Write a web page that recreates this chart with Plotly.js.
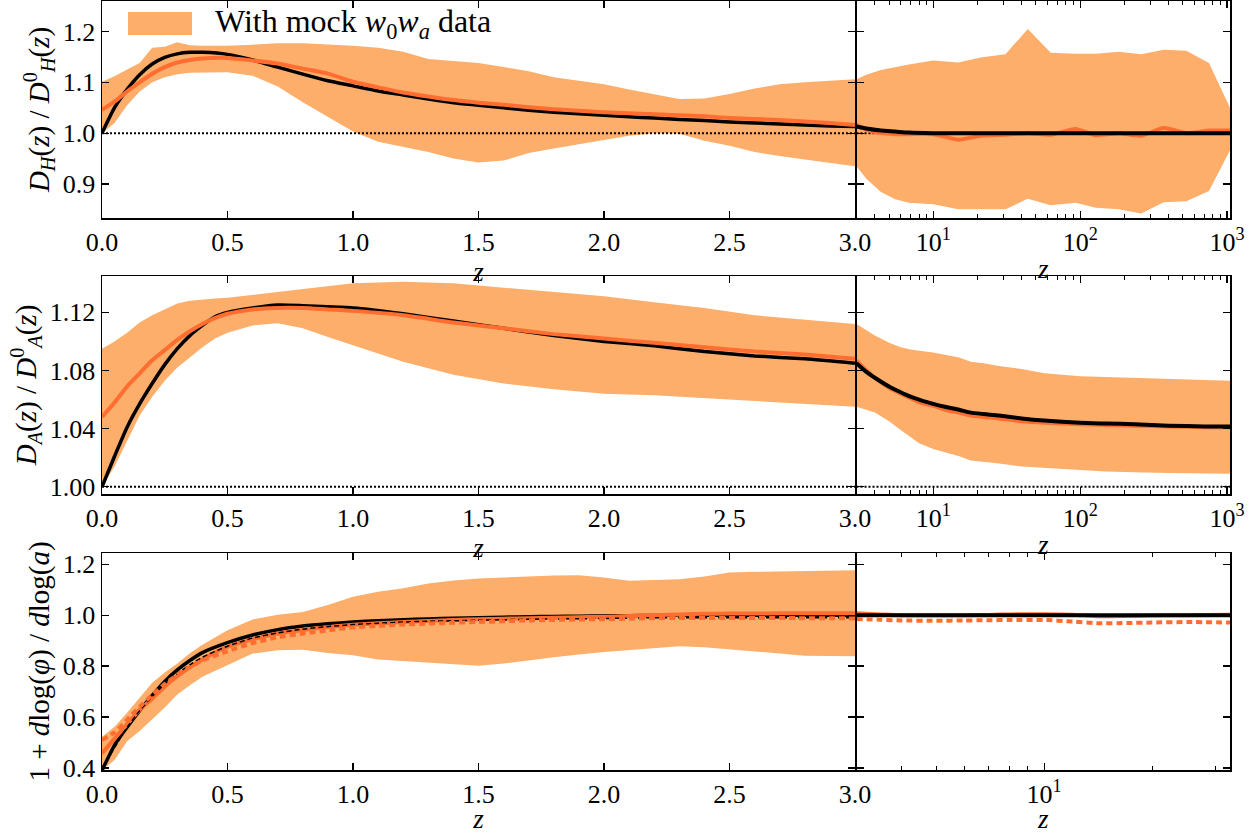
<!DOCTYPE html>
<html><head><meta charset="utf-8">
<script src="https://cdn.plot.ly/plotly-3.0.1.min.js"></script>
<style>
html,body{margin:0;padding:0;background:#fff;}
#plot{width:1256px;height:834px;}
#plot svg text{font-family:'Liberation Serif' !important;}
</style>
</head><body><div id="plot"></div>
<script>
// ---------- Row 1: D_H(z)/D_H^0(z) ----------
const zH = [0,0.05,0.1,0.15,0.2,0.25,0.3,0.35,0.4,0.5,0.6,0.7,0.8,0.9,1.0,1.1,1.2,1.3,1.4,1.5,1.6,1.7,1.8,1.9,2.0,2.1,2.2,2.3,2.4,2.5,2.6,2.7,2.8,2.9,3.0];
const dhUpper = [1.101,1.112,1.125,1.138,1.168,1.170,1.179,1.173,1.172,1.172,1.174,1.177,1.177,1.175,1.172,1.168,1.160,1.146,1.142,1.138,1.130,1.122,1.110,1.103,1.096,1.086,1.076,1.067,1.068,1.077,1.088,1.096,1.100,1.103,1.106];
const dhLower = [1.000,1.020,1.055,1.082,1.100,1.110,1.116,1.119,1.120,1.120,1.113,1.092,1.061,1.032,1.003,0.983,0.973,0.963,0.950,0.942,0.946,0.961,0.970,0.978,0.987,0.995,1.000,0.999,0.985,0.975,0.963,0.955,0.948,0.941,0.935];
const dhMean  = [1.046,1.062,1.082,1.100,1.117,1.130,1.139,1.144,1.147,1.148,1.143,1.137,1.127,1.117,1.101,1.090,1.080,1.072,1.065,1.060,1.056,1.051,1.047,1.044,1.041,1.039,1.037,1.035,1.033,1.030,1.028,1.026,1.023,1.020,1.016];
const dhTrue  = [1.000,1.050,1.086,1.115,1.136,1.149,1.156,1.159,1.159,1.155,1.144,1.130,1.116,1.103,1.093,1.083,1.075,1.067,1.060,1.055,1.050,1.045,1.041,1.038,1.035,1.032,1.030,1.027,1.025,1.022,1.020,1.018,1.016,1.014,1.013];
const zHlog = [3,3.5,4.4,5.5,6.8,10,14.8,21,31,44,63,93,128,183,260,371,528,753,1050];
const dhUpperLog = [1.106,1.115,1.124,1.130,1.135,1.143,1.139,1.149,1.155,1.205,1.158,1.156,1.156,1.160,1.155,1.164,1.162,1.138,1.049];
const dhLowerLog = [0.935,0.910,0.884,0.870,0.863,0.860,0.850,0.850,0.850,0.871,0.858,0.863,0.853,0.850,0.842,0.864,0.866,0.886,0.967];
const dhMeanLog  = [1.016,1.007,1.000,0.998,0.998,0.998,0.987,0.995,0.997,1.000,0.997,1.008,0.996,1.000,0.995,1.010,1.000,1.005,1.005];
const dhTrueLog  = [1.013,1.009,1.005,1.003,1.001,1.000,1.000,1.000,1.000,1.000,1.000,1.000,1.000,1.000,1.000,1.000,1.000,1.000,1.000];

// ---------- Row 2: D_A(z)/D_A^0(z) ----------
const zA = [0,0.05,0.1,0.15,0.2,0.25,0.3,0.35,0.4,0.45,0.5,0.6,0.7,0.8,0.9,1.0,1.2,1.4,1.6,1.8,2.0,2.2,2.4,2.6,2.8,3.0];
const daUpper = [1.095,1.100,1.106,1.113,1.118,1.122,1.126,1.128,1.129,1.1295,1.130,1.132,1.134,1.136,1.138,1.140,1.141,1.140,1.137,1.134,1.131,1.127,1.123,1.118,1.115,1.112];
const daLower = [1.000,1.014,1.031,1.049,1.062,1.073,1.082,1.089,1.096,1.102,1.106,1.111,1.1125,1.109,1.103,1.097,1.086,1.077,1.071,1.067,1.064,1.063,1.061,1.059,1.057,1.055];
const daMean  = [1.048,1.058,1.069,1.078,1.087,1.094,1.101,1.107,1.112,1.116,1.119,1.122,1.123,1.123,1.122,1.121,1.118,1.113,1.109,1.105,1.102,1.099,1.096,1.093,1.091,1.088];
const daTrue  = [1.000,1.021,1.041,1.057,1.071,1.084,1.095,1.104,1.111,1.117,1.120,1.123,1.125,1.1246,1.1238,1.123,1.119,1.114,1.109,1.104,1.100,1.097,1.093,1.090,1.088,1.085];
const zAlog = [3,3.5,4,5,6,7,8,10,12,15,18,22,28,40,57,100,150,234,400,700,1050];
const daUpperLog = [1.112,1.108,1.104,1.099,1.096,1.0945,1.0935,1.0924,1.091,1.089,1.086,1.085,1.083,1.081,1.078,1.076,1.0755,1.075,1.074,1.0735,1.073];
const daLowerLog = [1.055,1.053,1.051,1.045,1.039,1.034,1.030,1.026,1.024,1.021,1.018,1.017,1.016,1.014,1.013,1.0115,1.0105,1.010,1.0095,1.009,1.009];
const daMeanLog  = [1.087,1.080,1.075,1.068,1.064,1.061,1.058,1.0556,1.053,1.051,1.049,1.048,1.047,1.045,1.044,1.043,1.0425,1.042,1.0415,1.041,1.041];
const daTrueLog  = [1.085,1.079,1.075,1.069,1.065,1.062,1.060,1.057,1.055,1.053,1.051,1.050,1.049,1.047,1.0455,1.044,1.0435,1.043,1.042,1.0415,1.0414];

// ---------- Row 3: 1 + dlog(phi)/dlog(a) ----------
const zP = [0,0.05,0.1,0.15,0.2,0.25,0.3,0.35,0.4,0.5,0.6,0.7,0.8,0.9,1.0,1.1,1.2,1.3,1.4,1.5,1.6,1.7,1.8,1.9,2.0,2.1,2.2,2.3,2.4,2.5,2.6,2.7,2.8,2.9,3.0];
const phUpper = [0.523,0.562,0.617,0.676,0.735,0.775,0.810,0.850,0.884,0.941,0.983,1.002,1.012,1.040,1.072,1.092,1.106,1.124,1.136,1.144,1.148,1.152,1.156,1.157,1.148,1.135,1.138,1.141,1.152,1.167,1.170,1.172,1.174,1.175,1.176];
const phLower = [0.392,0.431,0.505,0.545,0.592,0.637,0.688,0.725,0.758,0.804,0.849,0.862,0.864,0.851,0.843,0.826,0.820,0.813,0.807,0.801,0.810,0.822,0.835,0.845,0.855,0.864,0.871,0.878,0.874,0.867,0.858,0.849,0.841,0.839,0.839];
const phMean  = [0.457,0.515,0.572,0.628,0.672,0.720,0.760,0.795,0.826,0.876,0.905,0.928,0.942,0.953,0.962,0.968,0.973,0.977,0.981,0.984,0.986,0.988,0.990,0.992,0.993,0.997,1.000,1.003,1.005,1.006,1.006,1.007,1.007,1.007,1.007];
const phMeanDash = [0.510,0.540,0.590,0.640,0.687,0.730,0.766,0.796,0.822,0.858,0.890,0.913,0.928,0.940,0.952,0.958,0.963,0.967,0.970,0.973,0.976,0.979,0.981,0.983,0.984,0.986,0.988,0.989,0.989,0.989,0.989,0.989,0.988,0.988,0.987];
const phTrue  = [0.390,0.490,0.560,0.625,0.685,0.740,0.785,0.822,0.853,0.892,0.922,0.943,0.957,0.966,0.973,0.978,0.982,0.985,0.988,0.990,0.992,0.994,0.995,0.996,0.997,0.998,0.999,1.000,1.000,1.000,1.000,1.000,1.000,1.000,1.000];
const phTrueDash = [0.400,0.480,0.560,0.625,0.680,0.730,0.770,0.805,0.835,0.878,0.910,0.930,0.945,0.955,0.963,0.968,0.973,0.976,0.978,0.980,0.982,0.984,0.985,0.986,0.987,0.988,0.990,0.990,0.990,0.990,0.990,0.990,0.990,0.990,0.990];
const zPlog = [3,3.5,4,5,6,7,8,10,12,14,17,20,25,33];
const phMeanLog = [1.007,1.003,1.000,1.000,1.000,1.001,1.003,1.004,1.002,0.996,0.997,0.999,1.000,1.002];
const phMeanDashLog = [0.985,0.982,0.979,0.978,0.979,0.980,0.981,0.981,0.975,0.968,0.969,0.971,0.973,0.971];
const phTrueLog = [1,1,1,1,1,1,1,1,1,1,1,1,1,1];

// axis ticks / labels
const linTicks = [0,0.5,1.0,1.5,2.0,2.5,3.0];
const logTicks = [10,100,1000];
const logTickText = ['10<sup>1</sup>','10<sup>2</sup>','10<sup>3</sup>'];
const logMinor = [4,5,6,7,8,9,20,30,40,50,60,70,80,90,200,300,400,500,600,700,800,900];
const ticksH = [0.9,1.0,1.1,1.2];
const ticksA = [1.00,1.04,1.08,1.12];
const ticksP = [0.4,0.6,0.8,1.0,1.2];
const legendText = 'With mock <i>w</i><sub>0</sub><i>w</i><sub><i>a</i></sub> data';

const BAND = '#FDAE6B', ORANGE = '#FF6E30', BLACK = '#000000';
const FONT = 'Liberation Serif';

function band(x, up, lo, xa, ya) {
  return {x: x.concat(x.slice().reverse()), y: up.concat(lo.slice().reverse()),
    xaxis: xa, yaxis: ya, type: 'scatter', mode: 'lines', fill: 'toself',
    fillcolor: BAND, line: {width: 0, color: BAND}, hoverinfo: 'skip', showlegend: false};
}
function line(x, y, xa, ya, color, width, dash) {
  return {x: x, y: y, xaxis: xa, yaxis: ya, type: 'scatter', mode: 'lines',
    line: {color: color, width: width, dash: dash || 'solid', shape: 'spline', smoothing: 0.6}, showlegend: false};
}
function ref(x0, x1, xa, ya) {
  return {x: [x0, x1], y: [1, 1], xaxis: xa, yaxis: ya, type: 'scatter', mode: 'lines',
    line: {color: BLACK, width: 2, dash: '2px,2px'}, showlegend: false, hoverinfo: 'skip'};
}

const traces = [
  band(zH, dhUpper, dhLower, 'x', 'y'),
  ref(0, 3, 'x', 'y'),
  line(zH, dhTrue, 'x', 'y', BLACK, 3.5),
  line(zH, dhMean, 'x', 'y', ORANGE, 4),
  band(zHlog, dhUpperLog, dhLowerLog, 'x2', 'y2'),
  ref(3, 1050, 'x2', 'y2'),
  line(zHlog, dhMeanLog, 'x2', 'y2', ORANGE, 4),
  line(zHlog, dhTrueLog, 'x2', 'y2', BLACK, 4),
  band(zA, daUpper, daLower, 'x3', 'y3'),
  ref(0, 3, 'x3', 'y3'),
  line(zA, daTrue, 'x3', 'y3', BLACK, 3.5),
  line(zA, daMean, 'x3', 'y3', ORANGE, 4),
  band(zAlog, daUpperLog, daLowerLog, 'x4', 'y4'),
  ref(3, 1050, 'x4', 'y4'),
  line(zAlog, daMeanLog, 'x4', 'y4', ORANGE, 4),
  line(zAlog, daTrueLog, 'x4', 'y4', BLACK, 4),
  band(zP, phUpper, phLower, 'x5', 'y5'),
  line(zP, phTrue, 'x5', 'y5', BLACK, 3.5),
  line(zP, phMean, 'x5', 'y5', ORANGE, 4),
  line(zP, phTrueDash, 'x5', 'y5', BLACK, 1.5, '5px,3px'),
  line(zP, phMeanDash, 'x5', 'y5', ORANGE, 4, '6px,4px'),
  line(zPlog, phMeanLog, 'x6', 'y6', ORANGE, 4),
  line(zPlog, phTrueLog, 'x6', 'y6', BLACK, 4),
  line(zPlog, phMeanDashLog, 'x6', 'y6', ORANGE, 4, '6px,4px')
];

const W = 1256, H = 834;
const xL = [102/W, 855/W], xR = [856.5/W, 1230/W];
const rows = [[1 - 218/H, 1 - 1/H], [1 - 494/H, 1 - 276/H], [1 - 770/H, 1 - 553/H]];
function tf(size) { return {family: FONT, size: size, color: BLACK}; }
function baseAxis() {
  return {showline: true, linecolor: BLACK, linewidth: 1.5, mirror: 'ticks', ticks: 'inside',
    ticklen: 7, tickwidth: 1.2, tickcolor: BLACK, showgrid: false, zeroline: false, tickfont: tf(26)};
}
function zTitle() { return {text: '<i>z</i>', font: tf(27), standoff: 3}; }

function xlin(anchor, dom) {
  return Object.assign(baseAxis(), {domain: dom, anchor: anchor, range: [0, 3], tickvals: linTicks,
    tickformat: '.1f', title: zTitle()});
}
function xlog(anchor, dom, maxLog) {
  const minor = logMinor.filter(v => Math.log10(v) <= maxLog);
  return Object.assign(baseAxis(), {domain: dom, anchor: anchor, type: 'log', range: [Math.log10(3), maxLog],
    tickvals: logTicks, ticktext: logTickText, title: zTitle(),
    minor: {tickvals: minor, ticks: 'inside', ticklen: 4, tickwidth: 1, tickcolor: BLACK}});
}
function ylin(anchor, dom, range, tv, fmt, title) {
  const o = Object.assign(baseAxis(), {domain: dom, anchor: anchor, range: range, tickvals: tv, tickformat: fmt});
  if (title) o.title = {text: title, font: tf(29), standoff: 4};
  else o.showticklabels = false;
  return o;
}

const layout = {
  width: W, height: H, margin: {l: 0, r: 0, t: 0, b: 0}, autosize: false,
  paper_bgcolor: '#fff', plot_bgcolor: '#fff', showlegend: false,
  font: {family: FONT, size: 26, color: BLACK},
  xaxis:  xlin('y', xL),  yaxis:  ylin('x', rows[0], [0.833, 1.26], ticksH, '.1f',
          '<i>D</i><sub><i>H</i></sub>(<i>z</i>) / <i>D</i><sup>0</sup><sub><i>H</i></sub>(<i>z</i>)'),
  xaxis2: xlog('y2', xR, 3.02), yaxis2: ylin('x2', rows[0], [0.833, 1.26], ticksH, '.1f'),
  xaxis3: xlin('y3', xL), yaxis3: ylin('x3', rows[1], [0.995, 1.145], ticksA, '.2f',
          '<i>D</i><sub><i>A</i></sub>(<i>z</i>) / <i>D</i><sup>0</sup><sub><i>A</i></sub>(<i>z</i>)'),
  xaxis4: xlog('y4', xR, 3.02), yaxis4: ylin('x4', rows[1], [0.995, 1.145], ticksA, '.2f'),
  xaxis5: xlin('y5', xL), yaxis5: ylin('x5', rows[2], [0.392, 1.244], ticksP, '.1f',
          '1 + <i>d</i>log(<i>φ</i>) / <i>d</i>log(<i>a</i>)'),
  xaxis6: xlog('y6', xR, 1.518), yaxis6: ylin('x6', rows[2], [0.392, 1.244], ticksP, '.1f'),
  shapes: [{type: 'rect', xref: 'paper', yref: 'paper', x0: 128/W, x1: 192/W, y0: 1 - 35/H, y1: 1 - 12/H,
    fillcolor: BAND, line: {width: 0}}],
  annotations: [{xref: 'paper', yref: 'paper', x: 213/W, y: 1 - 23/H, xanchor: 'left', yanchor: 'middle',
    text: legendText, showarrow: false, font: tf(32)}]
};

Plotly.newPlot('plot', traces, layout, {staticPlot: true, displayModeBar: false});
</script></body></html>
